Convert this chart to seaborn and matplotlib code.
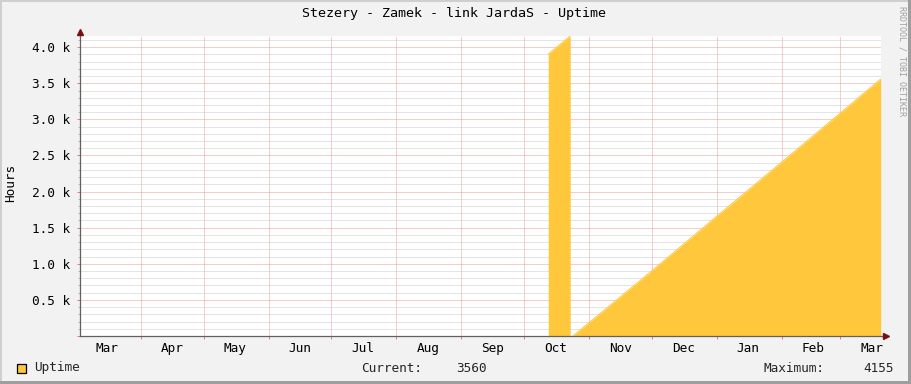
import matplotlib
matplotlib.use("Agg")
import matplotlib.pyplot as plt
import matplotlib.dates as mdates
from matplotlib.ticker import MultipleLocator, FuncFormatter, NullFormatter
from matplotlib.patches import Rectangle
import seaborn as sns
import pandas as pd

# ---- data ----
spike_dates = ["2013-10-12 12:00", "2013-10-17 18:00", "2013-10-23 00:00"]
spike_hours = [3905, 4030, 4155]
ramp_dates = ["2013-10-24 06:00", "2013-11-01 00:00", "2013-12-01 00:00",
              "2014-01-01 00:00", "2014-02-01 00:00", "2014-03-01 00:00",
              "2014-03-20 05:00"]
ramp_hours = [0, 185, 904, 1660, 2410, 3090, 3560]
x_start = "2013-03-03 00:00"
x_end = "2014-03-20 05:00"
y_max = 4155
title = "Stezery - Zamek - link JardaS - Uptime"
y_label = "Hours"
series_name = "Uptime"
current_value = "3560"
maximum_value = "4155"

AREA = "#FFC73B"
BG = "#F2F2F2"
MONO = "DejaVu Sans Mono"

spike = pd.DataFrame({"t": pd.to_datetime(spike_dates), "h": spike_hours})
ramp = pd.DataFrame({"t": pd.to_datetime(ramp_dates), "h": ramp_hours})

sns.set_theme(style="white")
plt.rcParams["font.family"] = [MONO, "DejaVu Sans"]

W, H = 911, 384
fig = plt.figure(figsize=(W / 100, H / 100), dpi=100, facecolor=BG)
L, R, T, B = 80, 880.7, 36, 336
ax = fig.add_axes([L / W, (H - B) / H, (R - L) / W, (B - T) / H])
ax.set_facecolor("white")

for df in (spike, ramp):
    ax.fill_between(df["t"], 0, df["h"], color=AREA, linewidth=0, zorder=2)
    sns.lineplot(data=df, x="t", y="h", ax=ax, color=AREA, linewidth=0.7,
                 zorder=2, legend=False)

ax.set_xlim(pd.Timestamp(x_start), pd.Timestamp(x_end))
ax.set_ylim(0, y_max)

# y axis ticks/grid
ax.yaxis.set_major_locator(MultipleLocator(500))
ax.yaxis.set_minor_locator(MultipleLocator(100))
ax.yaxis.set_major_formatter(FuncFormatter(lambda v, p: "" if v == 0 else f"{v/1000:.1f} k"))

# x axis: grid at month starts, labels mid-month
ax.xaxis.set_major_locator(mdates.MonthLocator(bymonthday=1))
ax.xaxis.set_major_formatter(NullFormatter())
ax.xaxis.set_minor_locator(mdates.MonthLocator(bymonthday=16))
ax.xaxis.set_minor_formatter(mdates.DateFormatter("%b"))

dot = (0, (1, 1))
ax.grid(which="minor", axis="y", color="#CACACA", linestyle=dot, linewidth=0.72, zorder=1)
ax.grid(which="major", axis="y", color="#EE9C9C", linestyle=dot, linewidth=0.72, zorder=1)
ax.grid(which="major", axis="x", color="#EE9C9C", linestyle=dot, linewidth=0.72, zorder=1)
ax.grid(which="minor", axis="x", visible=False)
ax.set_axisbelow(True)

ax.tick_params(axis="y", which="major", length=2, width=0.72, color="#E08080",
               labelsize=9.2, pad=5, labelcolor="#000000", direction="out", left=True)
ax.tick_params(axis="y", which="minor", length=1.5, width=0.72, color="#BBBBBB", left=True)
ax.tick_params(axis="x", which="major", length=2, width=0.72, color="#E08080",
               direction="out", bottom=True)
ax.tick_params(axis="x", which="minor", length=0, labelsize=9.2, pad=4, labelcolor="#000000")
for lab in ax.get_xticklabels(minor=True) + ax.get_yticklabels():
    lab.set_family(MONO)

for s in ("top", "right"):
    ax.spines[s].set_visible(False)
for s in ("left", "bottom"):
    ax.spines[s].set_color("#606060")
    ax.spines[s].set_linewidth(0.9)
    ax.spines[s].set_zorder(5)

# axis extensions with arrowheads
ax.plot([0, 0], [1, 1.013], transform=ax.transAxes, color="#606060", lw=0.9, clip_on=False)
ax.plot([1, 1.004], [0, 0], transform=ax.transAxes, color="#606060", lw=0.9, clip_on=False)
ax.plot([0], [1.015], transform=ax.transAxes, marker="^", color="#7A1010", markersize=4,
        clip_on=False, zorder=6)
ax.plot([1.006], [0], transform=ax.transAxes, marker=">", color="#7A1010", markersize=4,
        clip_on=False, zorder=6)

ax.set_xlabel("")
ax.set_ylabel("")

# texts
fig.text(454.5 / W, 1 - 14 / H, title, ha="center", va="center", fontsize=9.6,
         family=MONO, color="#000000")
fig.text(11 / W, 1 - 183 / H, y_label, ha="center", va="center", rotation=90,
         fontsize=9.2, family=MONO, color="#000000")
fig.text(902 / W, 1 - 61 / H, "RRDTOOL / TOBI OETIKER", ha="center", va="center",
         rotation=270, fontsize=6, family=MONO, color="#A0A0A0")

# legend line
fig.add_artist(Rectangle((17 / W, 1 - 373 / H), 9 / W, 9 / H, transform=fig.transFigure,
                         facecolor=AREA, edgecolor="#000000", linewidth=0.9))
ly = 1 - 368 / H
fig.text(34 / W, ly, series_name, ha="left", va="center", fontsize=9.2, family=MONO)
fig.text(360.7 / W, ly, "Current:", ha="left", va="center", fontsize=9.2, family=MONO)
fig.text(487 / W, ly, current_value, ha="right", va="center", fontsize=9.2, family=MONO)
fig.text(764 / W, ly, "Maximum:", ha="left", va="center", fontsize=9.2, family=MONO)
fig.text(893.5 / W, ly, maximum_value, ha="right", va="center", fontsize=9.2, family=MONO)

# 3D frame
fig.add_artist(Rectangle((0, 1 - 2 / H), 1, 2 / H, transform=fig.transFigure,
                         facecolor="#CFCFCF", edgecolor="none"))
fig.add_artist(Rectangle((0, 0), 2 / W, 1, transform=fig.transFigure,
                         facecolor="#CFCFCF", edgecolor="none"))
fig.add_artist(Rectangle((0, 0), 1, 3 / H, transform=fig.transFigure,
                         facecolor="#9E9E9E", edgecolor="none"))
fig.add_artist(Rectangle((1 - 3 / W, 0), 3 / W, 1, transform=fig.transFigure,
                         facecolor="#9E9E9E", edgecolor="none"))

fig.savefig("out.png", dpi=100, facecolor=BG)
